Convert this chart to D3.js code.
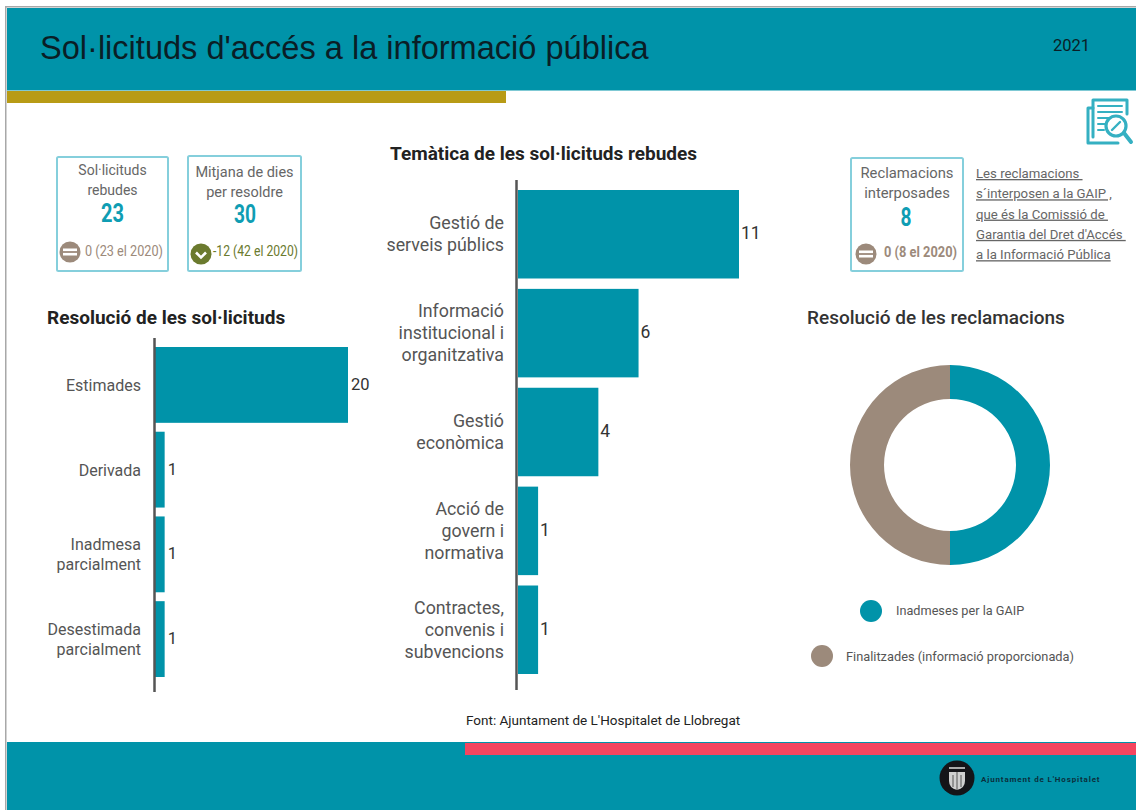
<!DOCTYPE html>
<html><head><meta charset="utf-8">
<script src="https://cdnjs.cloudflare.com/ajax/libs/d3/7.8.5/d3.min.js"></script>
<style>html,body{margin:0;padding:0;background:#fff}svg{display:block}text{font-family:Roboto,sans-serif}</style>
</head><body><svg id="c" width="1136" height="810"></svg>
<script>
const titleText = "Sol·licituds d'accés a la informació pública";
const yearText = "2021";
const resolCats = [["Estimades"],["Derivada"],["Inadmesa","parcialment"],["Desestimada","parcialment"]];
const resolVals = [20,1,1,1];
const themeCats = [["Gestió de","serveis públics"],["Informació","institucional i","organitzativa"],["Gestió","econòmica"],["Acció de","govern i","normativa"],["Contractes,","convenis i","subvencions"]];
const themeVals = [11,6,4,1,1];
const donutLabels = ["Inadmeses per la GAIP","Finalitzades (informació proporcionada)"];
const donutVals = [4,4];
const teal = "#0093a9", taupe = "#9c8a7b", olive = "#6b7a2e";
const svg = d3.select("#c");

function rect(x,y,w,h,f){return svg.append("rect").attr("x",x).attr("y",y).attr("width",w).attr("height",h).attr("fill",f);}
function txt(x,y,s,size,fill,anchor,weight){return svg.append("text").attr("x",x).attr("y",y).text(s).attr("font-size",size).attr("fill",fill).attr("text-anchor",anchor||"start").attr("font-weight",weight||400);}

// frame and bands
rect(5,7,1131,803,"#fff");
rect(5,6,1131,1.5,"#a8a8a8");
rect(5,6,1.5,804,"#a8a8a8");
rect(7,8,1129,82,teal);
rect(7,90,1129,1,"#7fc9d4");
rect(7,91,499,12,"#b89b16");
rect(7,742,1129,68,teal);
rect(465,743,671,12,"#f4455f");
txt(40,59,titleText,32.55,"#0a1e26").style("font-family","'Liberation Sans',Arial,sans-serif");
txt(1053,51,yearText,16.5,"#0a1e26");

// KPI boxes
function badge(cx,cy,col,kind){
  svg.append("circle").attr("cx",cx).attr("cy",cy).attr("r",10.5).attr("fill",col);
  if(kind==="eq"){
    rect(cx-7,cy-3.5,14,2.6,"#fff");rect(cx-7,cy+0.9,14,2.6,"#fff");
  } else {
    svg.append("path").attr("d",`M${cx-5},${cy-1.5}L${cx},${cy+3.5}L${cx+5},${cy-1.5}`).attr("fill","none").attr("stroke","#fff").attr("stroke-width",2.6);
  }
}
function box(x,y,w,h,lines,ly,tfs,val,vy,vx,vw,bx,by,col,kind,note,nx,ny,nw,nl){
  svg.append("rect").attr("x",x).attr("y",y).attr("width",w).attr("height",h).attr("rx",1.5).attr("fill","#fff").attr("stroke","#85cfdc").attr("stroke-width",2);
  lines.forEach((l,i)=>txt(x+w/2,ly+i*19.5,l,tfs,"#666","middle"));
  txt(vx,vy,val,25,"#0f9db3","middle",700).attr("textLength",vw).attr("lengthAdjust","spacingAndGlyphs");
  badge(bx,by,col,kind);
  txt(nx,ny,note,14,col,"start",nw).attr("textLength",nl).attr("lengthAdjust","spacingAndGlyphs");
}
box(57,157,111,114,["Sol·licituds","rebudes"],175,14,"23",222,112.5,23,70,252,taupe,"eq","0 (23 el 2020)",85,256,400,78);
box(188,156,113,115,["Mitjana de dies","per resoldre"],177,14.5,"30",223,245,22,201,254,olive,"down","-12 (42 el 2020)",213,256,400,85);
box(851,158,112,113,["Reclamacions","interposades"],178,14.8,"8",226,906,11,866,254,taupe,"eq","0 (8 el 2020)",884,257,700,73);

// note with underlines
["Les reclamacions ","s´interposen a la GAIP ,","que és la Comissió de ","Garantia del Dret d'Accés ","a la Informació Pública"].forEach((l,i)=>{
  txt(976,178+i*20.3,l,13.2,"#666").attr("text-decoration","underline").style("white-space","pre");
});

// document icon
const ic = svg.append("g").attr("fill","none").attr("stroke","#35b0c2").attr("stroke-width",3).attr("stroke-linejoin","round").attr("stroke-linecap","round");
ic.append("path").attr("d","M1093,137V100H1127V114");
ic.append("path").attr("d","M1093,108H1088V143H1118");
ic.append("path").attr("d","M1098,106H1122M1098,112H1122M1098,118H1110M1098,124H1106M1098,130H1104").attr("stroke-width",2);
ic.append("circle").attr("cx",1116).attr("cy",126).attr("r",10).attr("stroke-width",3.2);
ic.append("path").attr("d","M1124,133L1131,142").attr("stroke-width",4);
ic.append("path").attr("d","M1112,130L1120,122").attr("stroke-width",2.4);

// bar charts
function bars(vals,cats,x0,xPerRange,maxV,yTop,yBot,axT,axB,labelX,lineH,fs,lfs,valDx,axX){
  const x=d3.scaleLinear().domain([0,maxV]).range([x0,x0+xPerRange]);
  const y=d3.scaleBand().domain(d3.range(vals.length)).range([yTop,yBot]).paddingInner(0.105).paddingOuter(0);
  const g=svg.append("g");
  g.selectAll("rect").data(vals).join("rect").attr("x",x0).attr("y",(d,i)=>y(i)).attr("width",d=>x(d)-x0).attr("height",y.bandwidth()).attr("fill",teal);
  g.selectAll(".v").data(vals).join("text").attr("class","v").attr("x",d=>x(d)+valDx).attr("y",(d,i)=>y(i)+y.bandwidth()/2+5).text(d=>d).attr("font-size",lfs).attr("fill","#333");
  cats.forEach((ls,i)=>{
    const mid=y(i)+y.bandwidth()/2, off=-(ls.length-1)*lineH/2;
    ls.forEach((l,j)=>g.append("text").attr("x",labelX).attr("y",mid+off+j*lineH+6).attr("text-anchor","end").attr("font-size",fs).attr("fill","#555").text(l));
  });
  g.append("line").attr("x1",axX).attr("x2",axX).attr("y1",axT).attr("y2",axB).attr("stroke","#555").attr("stroke-width",2.5);
}
bars(resolVals,resolCats,155,193,20,347,677,338,692,141,20,16,16.5,3,154.5);
bars(themeVals,themeCats,518,221,11,190,674,180,690,504,22,17.8,17.5,2,516.5);

txt(47,324,"Resolució de les sol·licituds",19,"#222","start",700);
txt(390,160,"Temàtica de les sol·licituds rebudes",19,"#222","start",700);
txt(807,324,"Resolució de les reclamacions",19,"#333","start",500);
txt(466,725,"Font: Ajuntament de L'Hospitalet de Llobregat",13.5,"#222","start",400);

// donut
const pie=d3.pie().sort(null).startAngle(0).endAngle(2*Math.PI)(donutVals);
const arc=d3.arc().innerRadius(66).outerRadius(100);
svg.append("g").attr("transform","translate(950,465)").selectAll("path").data(pie).join("path").attr("d",arc).attr("fill",(d,i)=>[teal,taupe][i]);
svg.append("circle").attr("cx",871).attr("cy",611).attr("r",11).attr("fill",teal);
svg.append("circle").attr("cx",822).attr("cy",656).attr("r",11).attr("fill",taupe);
txt(896,615,donutLabels[0],12.7,"#555");
txt(846,661,donutLabels[1],12.8,"#555");

// logo
svg.append("circle").attr("cx",957).attr("cy",778).attr("r",17.5).attr("fill","#141418");
svg.append("path").attr("d","M949,772H965V781Q965,788 957,790Q949,788 949,781Z").attr("fill","#cfcfcf");
svg.append("path").attr("d","M957,772V790M953,775V787M961,775V787").attr("stroke","#555").attr("stroke-width",1);
svg.append("path").attr("d","M949,768H965").attr("stroke","#aaa").attr("stroke-width",2);
txt(981,782,"Ajuntament de L'Hospitalet",8,"#0b2f3c","start",700).attr("letter-spacing",0.85);
</script></body></html>
